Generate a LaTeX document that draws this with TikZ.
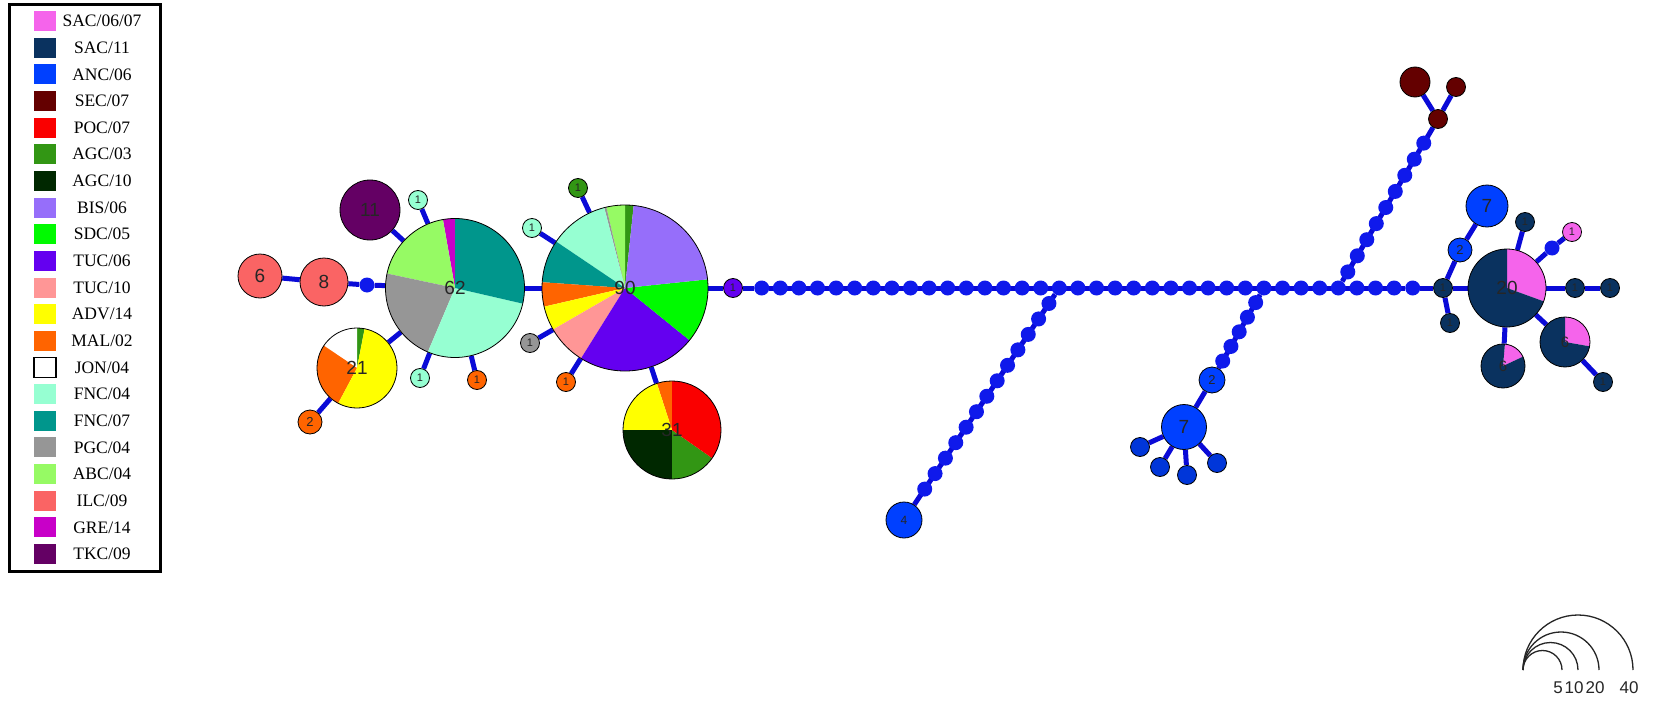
\documentclass[tikz,border=0pt]{standalone}
\usepackage{fontspec}
\setmainfont{Liberation Serif}
\newfontfamily\netfont{Liberation Sans}
\usetikzlibrary{calc,backgrounds}

\definecolor{sacA}{RGB}{245,100,235}
\definecolor{sacB}{RGB}{10,50,95}
\definecolor{anc}{RGB}{0,64,255}
\definecolor{sec}{RGB}{100,0,0}
\definecolor{poc}{RGB}{250,0,0}
\definecolor{agcA}{RGB}{50,150,20}
\definecolor{agcB}{RGB}{0,40,0}
\definecolor{bis}{RGB}{150,110,250}
\definecolor{sdc}{RGB}{0,250,0}
\definecolor{tucA}{RGB}{100,0,240}
\definecolor{tucB}{RGB}{255,150,150}
\definecolor{adv}{RGB}{255,255,0}
\definecolor{mal}{RGB}{255,100,0}
\definecolor{jon}{RGB}{255,255,255}
\definecolor{fncA}{RGB}{150,255,210}
\definecolor{fncB}{RGB}{0,150,140}
\definecolor{pgc}{RGB}{150,150,150}
\definecolor{abc}{RGB}{150,250,100}
\definecolor{ilc}{RGB}{250,100,100}
\definecolor{gre}{RGB}{200,0,200}
\definecolor{tkc}{RGB}{100,0,100}
\definecolor{edgeblue}{RGB}{10,10,215}
\definecolor{medblue}{RGB}{15,25,235}

\tikzset{
  hap/.style={circle, draw=black, line width=0.8pt, inner sep=0pt, text=black!85,
    font=\netfont\fontsize{19}{19}\selectfont},
  hap1/.style={hap, minimum size=19pt, font=\netfont\fontsize{11}{11}\selectfont},
  med/.style={circle, fill=medblue, inner sep=0pt, minimum size=15pt},
  edge/.style={draw=edgeblue, line width=5pt},
  swatch/.style={rectangle, inner sep=0pt, minimum width=22pt, minimum height=20pt},
  legtext/.style={font=\fontsize{17.5}{20}\selectfont, inner sep=0pt},
  pie/.style={path picture={
    \foreach \sa/\ea/\col in {#1}
      \fill[\col] (path picture bounding box.center) -- ++(\sa:150)
        arc[start angle=\sa, end angle=\ea, radius=150] -- cycle;}}
}

\begin{document}
\begin{tikzpicture}[x=1pt, y=1pt]
\useasboundingbox (0,0) rectangle (1658,-701);

% Legend
\draw[line width=3pt] (9,-4.5) rectangle (160,-571);
\foreach \col/\name [count=\i from 0] in {sacA/{SAC/06/07}, sacB/{SAC/11}, anc/{ANC/06},
    sec/{SEC/07}, poc/{POC/07}, agcA/{AGC/03}, agcB/{AGC/10}, bis/{BIS/06}, sdc/{SDC/05},
    tucA/{TUC/06}, tucB/{TUC/10}, adv/{ADV/14}, mal/{MAL/02}, jon/{JON/04}, fncA/{FNC/04},
    fncB/{FNC/07}, pgc/{PGC/04}, abc/{ABC/04}, ilc/{ILC/09}, gre/{GRE/14}, tkc/{TKC/09}} {
  \node[swatch, fill=\col] (sw\i) at (45,{-21-26.65*\i}) {};
  \node[legtext] (lt\i) at (102,{-21-26.65*\i}) {\name};
}
\draw[line width=1.5pt] (sw13.south west) rectangle (sw13.north east);

% Nodes
\node[hap, fill=ilc, minimum size=44pt] (h6) at (260,-276) {6};
\node[hap, fill=ilc, minimum size=48pt] (h8) at (324,-282) {8};
\node[med] (m1) at (367,-285) {};
\node[hap, minimum size=139pt,
  pie={90/100/gre, 100/168/abc, 168/247/pgc, 247/347/fncA, 347/450/fncB}] (h62) at (455,-288) {62};
\node[hap, fill=tkc, minimum size=60pt] (h11) at (370,-210) {11};
\node[hap1, fill=fncA] (f1) at (418,-200) {1};
\node[hap, minimum size=80pt,
  pie={79/90/agcA, 90/146/jon, 146/242/mal, 242/439/adv}] (h21) at (357,-368) {21};
\node[hap, fill=mal, minimum size=24pt, font=\netfont\fontsize{13}{13}\selectfont] (h2) at (310,-422) {2};
\node[hap1, fill=fncA] (f2) at (420,-378) {1};
\node[hap1, fill=mal] (o1) at (477,-380) {1};
\node[hap, minimum size=166pt,
  pie={84/90/agcA, 90/103/abc, 103/104.5/pgc, 104.5/146/fncA, 146/176/fncB, 176/193/mal,
       193/210/adv, 210/238/tucB, 238/321/tucA, 321/366/sdc, 366/444/bis}] (h90) at (625,-288) {90};
\node[hap1, fill=agcA] (g1) at (578,-188) {1};
\node[hap1, fill=fncA] (f3) at (532,-228) {1};
\node[hap1, fill=pgc] (p1) at (530,-343) {1};
\node[hap1, fill=mal] (o2) at (566,-382) {1};
\node[hap, minimum size=98pt,
  pie={90/108/mal, 108/180/adv, 180/270/agcB, 270/325/agcA, 325/450/poc}] (h31) at (672,-430) {31};
\node[hap1, fill=tucA] (t1) at (733,-288) {1};

% main chain of median vectors
\foreach \k in {0,...,35}
  \node[med] (c\k) at ({761.7+18.6*\k},-288) {};

% branch to 4
\node[hap, fill=anc, minimum size=36pt, font=\netfont\fontsize{12}{12}\selectfont] (n4) at (904,-520) {4};
\foreach \k in {1,...,13}
  \node[med] (a\k) at ($(c16)!{\k/15}!(n4)$) {};

% branch to lower 7
\node[hap, fill=anc, minimum size=26pt, font=\netfont\fontsize{13}{13}\selectfont] (b2) at (1212,-380) {2};
\node[hap, fill=anc, minimum size=45pt] (b7) at (1184,-427) {7};
\foreach \k in {1,...,5}
  \node[med] (d\k) at ($(c27)!{\k/6.3}!(b2)$) {};
\node[hap1, fill=anc!85!black] (l1) at (1140,-447) {};
\node[hap1, fill=anc!85!black] (l2) at (1160,-467) {};
\node[hap1, fill=anc!85!black] (l3) at (1187,-475) {};
\node[hap1, fill=anc!85!black] (l4) at (1217,-463) {};

% branch to SEC/07
\node[hap1, fill=sec] (s1) at (1438,-119) {};
\node[hap, fill=sec, minimum size=30pt] (s3) at (1415,-82) {};
\node[hap1, fill=sec] (s2) at (1456,-87) {};
\foreach \k in {1,...,9}
  \node[med] (u\k) at ($(c31)!{\k/10.5}!(s1)$) {};

% right cluster
\node[hap1, fill=sacB] (r1) at (1443,-288) {1};
\node[hap, fill=anc, minimum size=24pt, font=\netfont\fontsize{13}{13}\selectfont] (r2) at (1460,-250) {2};
\node[hap, fill=anc, minimum size=42pt] (r7) at (1487,-206) {7};
\node[hap1, fill=sacB] (r3) at (1450,-323) {1};
\node[hap, minimum size=78pt, pie={-20/90/sacA, 90/340/sacB}] (h20) at (1507,-288) {20};
\node[hap1, fill=sacB] (r4) at (1525,-222) {1};
\node[med] (m2) at (1552,-248) {};
\node[hap1, fill=sacA] (r5) at (1572,-232) {1};
\node[hap1, fill=sacB] (r6) at (1575,-288) {1};
\node[hap1, fill=sacB] (r8) at (1610,-288) {1};
\node[hap, minimum size=44pt, font=\netfont\fontsize{15}{15}\selectfont,
  pie={25/85/sacA, 85/385/sacB}] (h6a) at (1503,-366) {6};
\node[hap, minimum size=50pt, font=\netfont\fontsize{15}{15}\selectfont,
  pie={-10/90/sacA, 90/350/sacB}] (h6b) at (1565,-342) {6};
\node[hap1, fill=sacB] (r9) at (1603,-382) {1};

% Scale
\coordinate (sb) at (1523,-670);
\foreach \r/\v in {19.5/5, 27.5/10, 38/20, 55/40} {
  \draw[line width=1.3pt, black!85] (sb) arc[start angle=180, end angle=0, radius=\r];
  \node[font=\netfont\fontsize{17}{17}\selectfont, text=black!85] (sc\v) at ({1519+2*\r},-688) {\v};
}

% Edges
\begin{pgfonlayer}{background}
\fill[white] (0,0) rectangle (1658,-701);
\draw[edge] (h6) -- (h8) -- (m1) -- (h62);
\draw[edge] (h62) -- (h11);
\draw[edge] (h62) -- (f1);
\draw[edge] (h62) -- (h21);
\draw[edge] (h21) -- (h2);
\draw[edge] (h62) -- (f2);
\draw[edge] (h62) -- (o1);
\draw[edge] (h62) -- (h90);
\draw[edge] (h90) -- (g1);
\draw[edge] (h90) -- (f3);
\draw[edge] (h90) -- (p1);
\draw[edge] (h90) -- (o2);
\draw[edge] (h90) -- (h31);
\draw[edge] (h90) -- (t1) -- (c0);
\draw[edge] (c0) -- (c35) -- (r1);
\draw[edge] (c16) -- (n4);
\draw[edge] (c27) -- (b2) -- (b7);
\foreach \l in {l1,l2,l3,l4}
  \draw[edge] (b7) -- (\l);
\draw[edge] (c31) -- (s1);
\draw[edge] (s1) -- (s3);
\draw[edge] (s1) -- (s2);
\draw[edge] (r1) -- (r2) -- (r7);
\draw[edge] (r1) -- (r3);
\draw[edge] (r1) -- (h20);
\draw[edge] (h20) -- (r4);
\draw[edge] (h20) -- (m2) -- (r5);
\draw[edge] (h20) -- (r6) -- (r8);
\draw[edge] (h20) -- (h6a);
\draw[edge] (h20) -- (h6b) -- (r9);
\end{pgfonlayer}
\end{tikzpicture}
\end{document}
